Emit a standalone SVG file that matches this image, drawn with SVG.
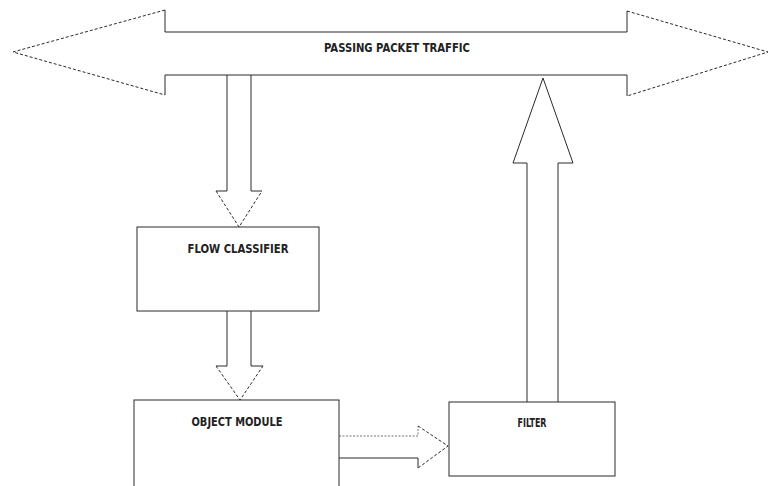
<svg xmlns="http://www.w3.org/2000/svg" width="770" height="486" viewBox="0 0 770 486">
<style>
.ln{fill:none;stroke:#2a2a2a;stroke-width:1}
.ds{fill:none;stroke:#2a2a2a;stroke-width:1;stroke-dasharray:3,2}
.dl{fill:none;stroke:#777;stroke-width:1;stroke-dasharray:2,1.5}
.box{fill:#fff;stroke:#2a2a2a;stroke-width:1}
.t{font-family:"DejaVu Sans Condensed","Liberation Sans Narrow","Liberation Sans",sans-serif;font-weight:bold;font-size:12px;fill:#222;text-anchor:middle}
</style>
<rect width="770" height="486" fill="#fff"/>
<g id="connectors">
  <g id="traffic-arrow">
    <path class="ln" d="M165,10 V32 H627 V11"/>
    <path class="ln" d="M165,95 V75 H627 V96"/>
    <path class="ds" d="M165,10 L13,52 L165,95"/>
    <path class="ds" d="M627,11 L768,52 L627,96"/>
    <text class="t" x="397" y="52" textLength="146" lengthAdjust="spacingAndGlyphs">PASSING PACKET TRAFFIC</text>
  </g>
  <g id="arrow-traffic-classifier">
    <path class="ln" d="M227,75 V191 H216 M251,75 V191 H262"/>
    <path class="ds" d="M216,191 L239,227 L262,191"/>
  </g>
  <g id="arrow-classifier-module">
    <path class="ln" d="M227,311 V366 H216 M251,311 V366 H263"/>
    <path class="ds" d="M216,366 L240,400 L263,366"/>
  </g>
  <g id="arrow-module-filter">
    <path class="dl" d="M339,436 H418 V426"/>
    <path class="ln" d="M339,458 H418 V468"/>
    <path class="ds" d="M418,426 L448,446 L418,468"/>
  </g>
  <g id="arrow-filter-traffic">
    <path class="ln" d="M527,402 V163 H513 L543,78 L573,163 H558 V402"/>
  </g>
</g>
<g id="flow-classifier">
  <rect class="box" x="137" y="227" width="182" height="84"/>
  <text class="t" x="238" y="253" textLength="101" lengthAdjust="spacingAndGlyphs">FLOW CLASSIFIER</text>
</g>
<g id="object-module">
  <rect class="box" x="134" y="400" width="205" height="100"/>
  <text class="t" x="237" y="426" textLength="91" lengthAdjust="spacingAndGlyphs">OBJECT MODULE</text>
</g>
<g id="filter">
  <rect class="box" x="449" y="402" width="166" height="74"/>
  <text class="t" x="532" y="427" textLength="29" lengthAdjust="spacingAndGlyphs">FILTER</text>
</g>
</svg>
